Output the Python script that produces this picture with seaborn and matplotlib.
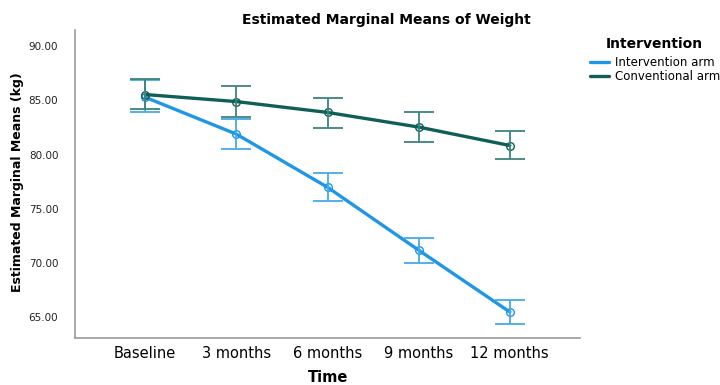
import matplotlib
matplotlib.use("Agg")
import matplotlib.pyplot as plt
from matplotlib.lines import Line2D
import seaborn as sns
import pandas as pd

# Estimated marginal means of weight (kg) with 95% CI, by time point and arm
time_points = ["Baseline", "3 months", "6 months", "9 months", "12 months"]
groups = ["Intervention arm", "Conventional arm"]

intervention_mean = [85.3, 81.9, 77.0, 71.2, 65.5]
intervention_lower = [83.9, 80.5, 75.7, 70.0, 64.4]
intervention_upper = [86.85, 83.25, 78.3, 72.35, 66.6]

conventional_mean = [85.55, 84.9, 83.9, 82.55, 80.85]
conventional_lower = [84.2, 83.5, 82.5, 81.2, 79.6]
conventional_upper = [87.0, 86.3, 85.2, 83.9, 82.2]

y_ticks = [65, 70, 75, 80, 85, 90]

line_colors = {"Intervention arm": "#1f96e6", "Conventional arm": "#0f5f58"}
bar_colors = {"Intervention arm": "#47aae8", "Conventional arm": "#3e837d"}

rows = []
for name, m, lo, hi in [
    ("Intervention arm", intervention_mean, intervention_lower, intervention_upper),
    ("Conventional arm", conventional_mean, conventional_lower, conventional_upper),
]:
    for t, mv, lv, hv in zip(time_points, m, lo, hi):
        rows.append({"Time": t, "Group": name, "Mean": mv, "Lower": lv, "Upper": hv})
df = pd.DataFrame(rows)

sns.set_theme(style="white")
plt.rcParams["font.family"] = ["DejaVu Sans"]
plt.rcParams["text.color"] = "black"

fig = plt.figure(figsize=(7.2, 3.85), dpi=100)
ax = fig.add_axes([75 / 720, 1 - 338 / 385, (580 - 75) / 720, (338 - 30) / 385])

sns.lineplot(
    data=df, x="Time", y="Mean", hue="Group", hue_order=groups,
    palette=line_colors, linewidth=2.4, marker="o", markersize=5.5,
    markerfacecolor="none", markeredgewidth=1.0, sort=False,
    legend=False, ax=ax, errorbar=None,
)
# open-circle markers take their line's colour
for ln in ax.get_lines():
    ln.set_markeredgecolor(ln.get_color())

for name in groups:
    sub = df[df["Group"] == name]
    yerr = [sub["Mean"] - sub["Lower"], sub["Upper"] - sub["Mean"]]
    ax.errorbar(
        list(range(len(time_points))), sub["Mean"], yerr=yerr, fmt="none",
        ecolor=bar_colors[name], elinewidth=1.3, capsize=11, capthick=1.3,
        zorder=4,
    )

ax.set_xlim(-0.77, 4.77)
ax.set_ylim(63.1, 91.5)
ax.set_yticks(y_ticks)
ax.set_yticklabels([f"{v:.2f}" for v in y_ticks], fontsize=7.5, color="#222222")
ax.set_xticks(range(len(time_points)))
ax.set_xticklabels(time_points, fontsize=10.5, color="black")
ax.tick_params(axis="both", length=0, pad=6)
ax.tick_params(axis="y", pad=12)
ax.set_xlabel("")
ax.set_ylabel("")

for side in ["top", "right"]:
    ax.spines[side].set_visible(False)
for side in ["left", "bottom"]:
    ax.spines[side].set_color("#9a9a9a")
    ax.spines[side].set_linewidth(1.2)

fig.text(386 / 720, 1 - 20 / 385, "Estimated Marginal Means of Weight",
         ha="center", va="center", fontsize=10, fontweight="bold")
fig.text(328 / 720, 1 - 377 / 385, "Time",
         ha="center", va="center", fontsize=10.5, fontweight="bold")
fig.text(18 / 720, 1 - 182 / 385, "Estimated Marginal Means (kg)",
         ha="center", va="center", rotation=90, fontsize=9, fontweight="bold")

handles = [Line2D([0], [0], color=line_colors[g], linewidth=2.4) for g in groups]
leg = fig.legend(
    handles, groups, title="Intervention", loc="upper left",
    bbox_to_anchor=(585 / 720, 1 - 32 / 385), frameon=False,
    fontsize=8.5, title_fontsize=10, handlelength=1.6, handletextpad=0.5,
    labelspacing=0.05, borderaxespad=0,
)
leg.get_title().set_fontweight("bold")
leg._legend_box.sep = 4

fig.savefig("out.png", dpi=100)
